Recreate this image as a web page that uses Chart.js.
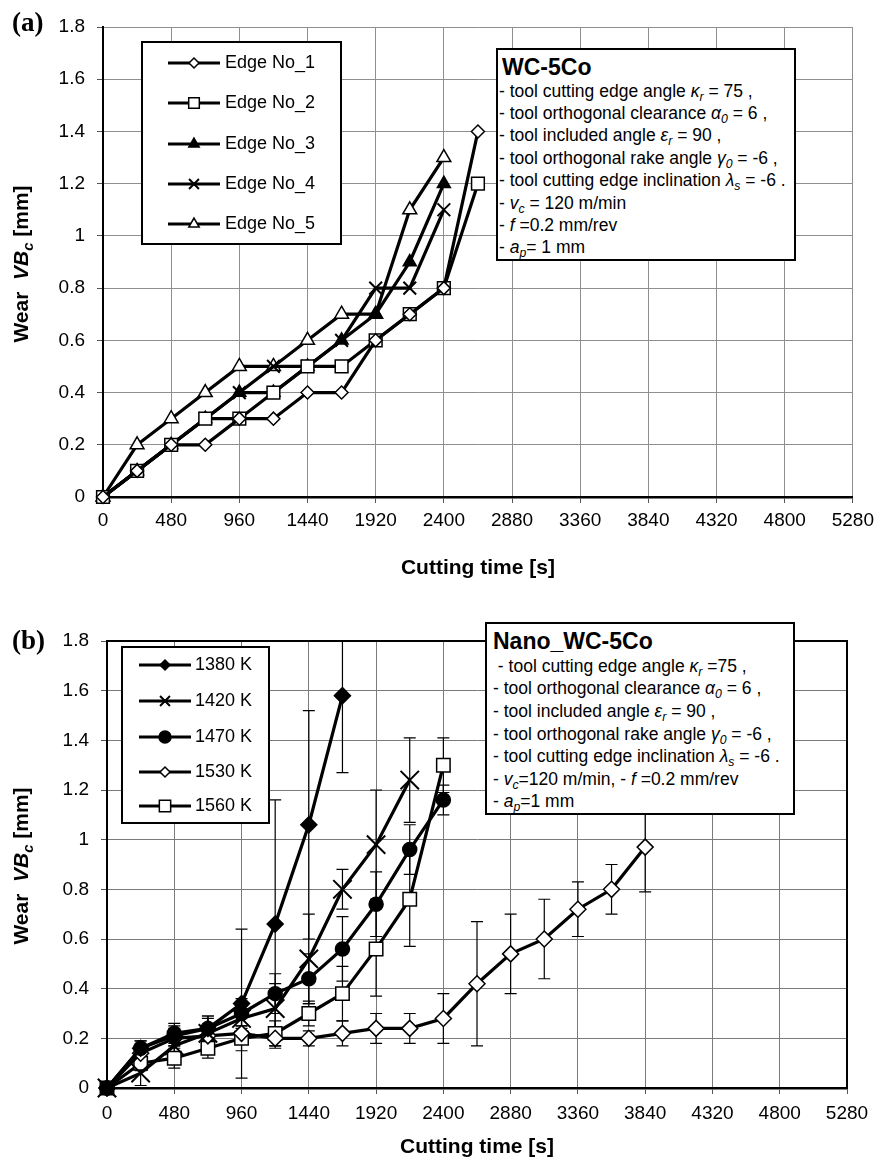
<!DOCTYPE html>
<html>
<head>
<meta charset="utf-8">
<script src="https://cdn.jsdelivr.net/npm/chart.js@4.4.1/dist/chart.umd.min.js"></script>
<style>
  body { margin: 0; background: #fff; width: 880px; height: 1164px; position: relative; overflow: hidden;
         font-family: "Liberation Sans", Arial, sans-serif; color: #000; }
  canvas { position: absolute; left: 0; }
  #chartA { top: 0; }
  #chartB { top: 590px; }
  .tag { position: absolute; left: 12px; font-family: "Liberation Serif", "Times New Roman", serif;
         font-weight: bold; font-size: 27px; line-height: 30px; }
  .ytitle { position: absolute; font-weight: bold; font-size: 21px; white-space: pre; line-height: 24px;
            transform: translate(-50%, -50%) rotate(-90deg); }
  .info { position: absolute; background: #fff; border: 2px solid #000; box-sizing: border-box; font-size: 17.5px; z-index: 2; }
  .info div { position: absolute; white-space: pre; line-height: 20px; }
  .info .hd { font-weight: bold; font-size: 23px; line-height: 24px; }
  sub { font-size: 70%; line-height: 0; vertical-align: -0.35em; }
</style>
</head>
<body>
<canvas id="chartA" width="880" height="590"></canvas>
<canvas id="chartB" width="880" height="574"></canvas>

<div class="tag" style="top:7px">(a)</div>
<div class="tag" style="top:625px">(b)</div>
<div class="ytitle" style="left:21px; top:264px">Wear  <i>VB<sub>c</sub></i> [mm]</div>
<div class="ytitle" style="left:21px; top:866px">Wear  <i>VB<sub>c</sub></i> [mm]</div>

<div class="info" style="left:496px; top:48px; width:300px; height:213px">
  <div class="hd" style="left:4px; top:5px">WC-5Co</div>
  <div style="left:1px; top:31px">- tool cutting edge angle <i>κ<sub>r</sub></i> = 75 ,</div>
  <div style="left:1px; top:53px">- tool orthogonal clearance <i>α<sub>0</sub></i> = 6 ,</div>
  <div style="left:1px; top:75px">- tool included angle <i>ε<sub>r</sub></i> = 90 ,</div>
  <div style="left:1px; top:98px">- tool orthogonal rake angle <i>γ<sub>0</sub></i> = -6 ,</div>
  <div style="left:1px; top:120px">- tool cutting edge inclination <i>λ<sub>s</sub></i> = -6 .</div>
  <div style="left:1px; top:143px">- <i>v<sub>c</sub></i> = 120 m/min</div>
  <div style="left:1px; top:165px">- <i>f</i> =0.2 mm/rev</div>
  <div style="left:1px; top:187px">- <i>a<sub>p</sub></i>= 1 mm</div>
</div>

<div class="info" style="left:485px; top:622px; width:310px; height:193px">
  <div class="hd" style="left:6px; top:5px">Nano_WC-5Co</div>
  <div style="left:6px; top:32px"> - tool cutting edge angle <i>κ<sub>r</sub></i> =75 ,</div>
  <div style="left:6px; top:54px">- tool orthogonal clearance <i>α<sub>0</sub></i> = 6 ,</div>
  <div style="left:6px; top:77px">- tool included angle <i>ε<sub>r</sub></i> = 90 ,</div>
  <div style="left:6px; top:100px">- tool orthogonal rake angle <i>γ<sub>0</sub></i> = -6 ,</div>
  <div style="left:6px; top:122px">- tool cutting edge inclination <i>λ<sub>s</sub></i> = -6 .</div>
  <div style="left:6px; top:145px">- <i>v<sub>c</sub></i>=120 m/min, - <i>f</i> =0.2 mm/rev</div>
  <div style="left:6px; top:167px">- <i>a<sub>p</sub></i>=1 mm</div>
</div>

<script>
// panel (a) - WC-5Co, wear of five edges
const timesA = [0, 240, 480, 720, 960, 1200, 1440, 1680, 1920, 2160, 2400, 2640];
const edgeLabels = ["Edge No_1", "Edge No_2", "Edge No_3", "Edge No_4", "Edge No_5"];
const edge1 = [0, 0.1, 0.2, 0.2, 0.3, 0.3, 0.4, 0.4, 0.6, 0.7, 0.8, 1.4];
const edge2 = [0, 0.1, 0.2, 0.3, 0.3, 0.4, 0.5, 0.5, 0.6, 0.7, 0.8, 1.2];
const edge3 = [0, 0.1, 0.2, 0.3, 0.4, 0.4, 0.5, 0.6, 0.7, 0.9, 1.2];
const edge4 = [0, 0.1, 0.2, 0.3, 0.4, 0.5, 0.5, 0.6, 0.8, 0.8, 1.1];
const edge5 = [0, 0.2, 0.3, 0.4, 0.5, 0.5, 0.6, 0.7, 0.7, 1.1, 1.3];

// panel (b) - Nano_WC-5Co, sintering temperatures, mean wear and +/- spread
const timesB = [0, 240, 480, 720, 960, 1200, 1440, 1680, 1920, 2160, 2400, 2640, 2880, 3120, 3360, 3600, 3840];
const tempLabels = ["1380 K", "1420 K", "1470 K", "1530 K", "1560 K"];
const wear1380 = [0, 0.16, 0.21, 0.24, 0.34, 0.66, 1.06, 1.58];
const err1380  = [0, 0.03, 0.04, 0.05, 0.30, 0.50, 0.46, 0.31];
const wear1420 = [0, 0.06, 0.17, 0.22, 0.28, 0.32, 0.52, 0.80, 0.98, 1.24];
const err1420  = [0, 0.05, 0.07, 0.06, 0.05, 0.10, 0.18, 0.08, 0.22, 0.17];
const wear1470 = [0, 0.16, 0.22, 0.24, 0.30, 0.38, 0.44, 0.56, 0.74, 0.96, 1.16];
const err1470  = [0, 0.03, 0.04, 0.05, 0.06, 0.08, 0.10, 0.13, 0.13, 0.10, 0.06];
const wear1530 = [0, 0.14, 0.20, 0.21, 0.22, 0.20, 0.20, 0.22, 0.24, 0.24, 0.28, 0.42, 0.54, 0.60, 0.72, 0.80, 0.97];
const err1530  = [0, 0.03, 0.03, 0.03, 0.03, 0.03, 0.03, 0.05, 0.06, 0.06, 0.10, 0.25, 0.16, 0.16, 0.11, 0.10, 0.18];
const wear1560 = [0, 0.10, 0.12, 0.16, 0.20, 0.22, 0.30, 0.38, 0.56, 0.76, 1.30];
const err1560  = [0, 0.03, 0.04, 0.04, 0.05, 0.05, 0.05, 0.11, 0.19, 0.19, 0.11];

const FONT = "Liberation Sans";

function pts(times, vals) {
    return vals.map(function (v, i) { return { x: times[i], y: v }; });
}

function series(label, times, vals, style, radius, fill, legendRadius, errs) {
    return {
        label: label,
        data: pts(times, vals),
        errors: errs,
        borderColor: "#000",
        borderWidth: 3.2,
        pointStyle: style,
        pointRadius: radius,
        pointBackgroundColor: fill,
        pointBorderColor: "#000",
        pointBorderWidth: style === "crossRot" ? 2 : 1.5,
        legendRadius: legendRadius,
        clip: false,
    };
}

// vertical error bars with caps, drawn under the markers
const errorBars = {
    id: "errorBars",
    beforeDatasetsDraw(chart) {
        const ctx = chart.ctx, a = chart.chartArea, xs = chart.scales.x, ys = chart.scales.y;
        ctx.save();
        ctx.beginPath();
        ctx.rect(a.left, a.top, a.right - a.left, a.bottom - a.top);
        ctx.clip();
        ctx.strokeStyle = "#000";
        ctx.lineWidth = 1.2;
        chart.data.datasets.forEach(function (ds) {
            if (!ds.errors) return;
            ds.data.forEach(function (p, i) {
                const e = ds.errors[i];
                if (!e) return;
                const px = xs.getPixelForValue(p.x);
                const lo = ys.getPixelForValue(p.y - e);
                const hi = ys.getPixelForValue(p.y + e);
                ctx.beginPath();
                ctx.moveTo(px, lo); ctx.lineTo(px, hi);
                ctx.moveTo(px - 6, lo); ctx.lineTo(px + 6, lo);
                ctx.moveTo(px - 6, hi); ctx.lineTo(px + 6, hi);
                ctx.stroke();
            });
        });
        ctx.restore();
    },
};

// black frame on top/right (panel b only)
const frame = {
    id: "frame",
    afterDatasetsDraw(chart, args, opts) {
        if (!opts.on) return;
        const ctx = chart.ctx, a = chart.chartArea;
        ctx.save();
        ctx.strokeStyle = "#000";
        ctx.lineWidth = 2;
        ctx.beginPath();
        ctx.moveTo(a.left, a.top); ctx.lineTo(a.right, a.top); ctx.lineTo(a.right, a.bottom);
        ctx.stroke();
        ctx.restore();
    },
};

// boxed legend inside the plot area
const boxLegend = {
    id: "boxLegend",
    afterDatasetsDraw(chart, args, opts) {
        const ctx = chart.ctx, b = opts.box;
        const drawPoint = Chart.helpers && Chart.helpers.drawPoint;
        ctx.save();
        ctx.fillStyle = "#fff";
        ctx.fillRect(b[0], b[1], b[2] - b[0], b[3] - b[1]);
        ctx.strokeStyle = "#000";
        ctx.lineWidth = 2;
        ctx.strokeRect(b[0], b[1], b[2] - b[0], b[3] - b[1]);
        ctx.font = opts.fontSize + "px '" + FONT + "'";
        ctx.textBaseline = "middle";
        chart.data.datasets.forEach(function (ds, i) {
            const yy = opts.rows[i];
            ctx.strokeStyle = "#000";
            ctx.lineWidth = ds.borderWidth;
            ctx.beginPath();
            ctx.moveTo(opts.x1, yy); ctx.lineTo(opts.x2, yy);
            ctx.stroke();
            ctx.lineWidth = ds.pointBorderWidth;
            ctx.fillStyle = ds.pointBackgroundColor;
            if (drawPoint) {
                drawPoint(ctx, { pointStyle: ds.pointStyle, radius: ds.legendRadius, borderWidth: ds.pointBorderWidth, rotation: 0 },
                    (opts.x1 + opts.x2) / 2, yy);
            }
            ctx.fillStyle = "#000";
            ctx.fillText(ds.label, opts.textX, yy);
        });
        ctx.restore();
    },
};

function makeOptions(o) {
    return {
        responsive: false,
        animation: false,
        events: [],
        layout: { padding: { left: 0, top: o.padTop, right: o.padRight, bottom: 0 } },
        plugins: {
            legend: { display: false },
            tooltip: { enabled: false },
            boxLegend: o.legend,
            frame: { on: o.frame },
        },
        scales: {
            x: {
                type: "linear", min: 0, max: 5280,
                afterFit: function (s) { s.height = o.xHeight; },
                ticks: { stepSize: 480, color: "#000", padding: o.xPad, font: { family: FONT, size: 19 },
                         callback: function (v) { return String(v); } },
                grid: { color: o.gridColor, lineWidth: 1, tickLength: 6, tickColor: "#555" },
                border: { color: "#000", width: 2.5 },
                title: { display: true, text: "Cutting time [s]", color: "#000",
                         font: { family: FONT, size: 21, weight: "bold" }, padding: { top: 0, bottom: o.titlePad } },
            },
            y: {
                min: 0, max: 1.8,
                afterFit: function (s) { s.width = o.yWidth; },
                ticks: { stepSize: 0.2, color: "#000", padding: 12, font: { family: FONT, size: 19 },
                         callback: function (v) { return String(Math.round(v * 10) / 10); } },
                grid: { color: o.gridColor, lineWidth: 1, tickLength: 6, tickColor: "#555" },
                border: { color: "#000", width: 2 },
            },
        },
    };
}

new Chart(document.getElementById("chartA"), {
    type: "line",
    data: {
        datasets: [
            series(edgeLabels[0], timesA, edge1, "rectRot", 6.5, "#fff", 5),
            series(edgeLabels[1], timesA, edge2, "rect", 9, "#fff", 7.5),
            series(edgeLabels[2], timesA, edge3, "triangle", 7.5, "#000", 6),
            series(edgeLabels[3], timesA, edge4, "crossRot", 9, "#000", 7),
            series(edgeLabels[4], timesA, edge5, "triangle", 8, "#fff", 6),
        ],
    },
    options: makeOptions({
        padTop: 27, padRight: 27, xHeight: 93, yWidth: 103, xPad: 6, titlePad: 9,
        gridColor: "#8f8f8f", frame: false,
        legend: { box: [142, 42, 341, 244], rows: [63, 103, 144, 184, 224], x1: 168, x2: 220, textX: 225, fontSize: 18 },
    }),
    plugins: [errorBars, frame, boxLegend],
});

new Chart(document.getElementById("chartB"), {
    type: "line",
    data: {
        datasets: [
            series(tempLabels[0], timesB, wear1380, "rectRot", 8, "#000", 5, err1380),
            series(tempLabels[1], timesB, wear1420, "crossRot", 13, "#000", 7, err1420),
            series(tempLabels[2], timesB, wear1470, "circle", 7, "#000", 6, err1470),
            series(tempLabels[3], timesB, wear1530, "rectRot", 8, "#fff", 5, err1530),
            series(tempLabels[4], timesB, wear1560, "rect", 9.5, "#fff", 8, err1560),
        ],
    },
    options: makeOptions({
        padTop: 51, padRight: 33, xHeight: 76, yWidth: 107, xPad: 8, titlePad: 4,
        gridColor: "#7a7a7a", frame: true,
        legend: { box: [122, 57, 269, 233], rows: [75, 111, 147, 182, 216], x1: 139, x2: 191, textX: 195, fontSize: 18 },
    }),
    plugins: [errorBars, frame, boxLegend],
});
</script>
</body>
</html>
